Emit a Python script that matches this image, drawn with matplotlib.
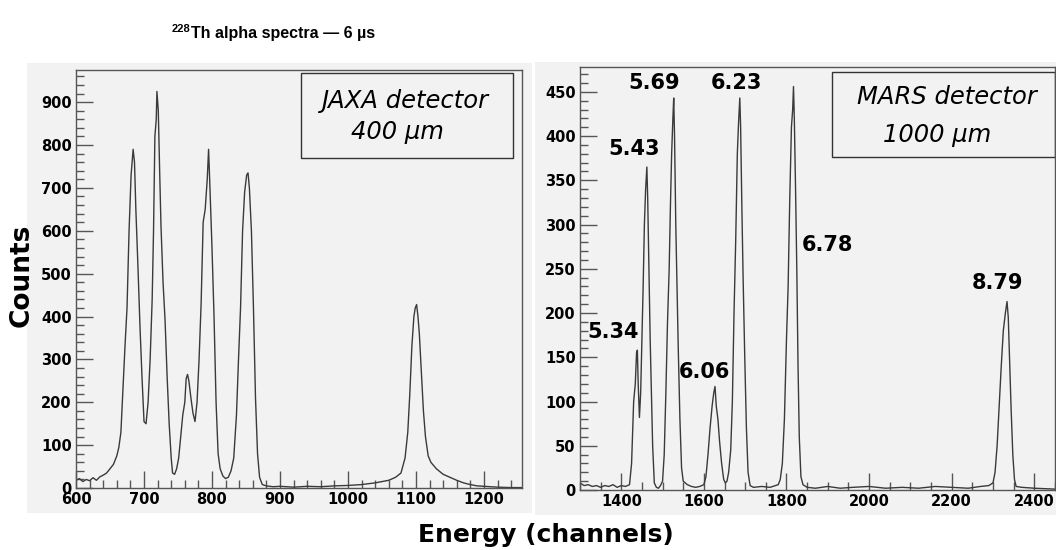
import matplotlib.pyplot as plt
from matplotlib.patches import Rectangle
from matplotlib.ticker import MultipleLocator

# JAXA detector (400 um) spectrum
jaxa_channel = [600, 605, 610, 615, 620, 625, 630, 635, 640, 645, 650, 655, 660, 663, 666,
                669, 672, 675, 678, 681, 684, 686, 688, 691, 694, 697, 700, 703, 706, 709,
                712, 714, 716, 718, 719, 721, 723, 725, 728, 731, 734, 737, 740, 742, 745,
                748, 751, 754, 757, 760, 762, 764, 766, 769, 772, 775, 778, 781, 784, 787,
                790, 793, 795, 797, 800, 803, 806, 809, 812, 816, 820, 824, 828, 832, 836,
                839, 842, 845, 848, 851, 853, 855, 858, 861, 864, 867, 870, 874, 880, 890,
                900, 920, 940, 960, 980, 1000, 1020, 1040, 1060, 1070, 1078, 1084, 1088, 1091, 1094,
                1097, 1099, 1101, 1103, 1105, 1108, 1111, 1114, 1118, 1122, 1130, 1140, 1150, 1160, 1170,
                1180, 1190, 1200, 1220, 1240, 1255]
jaxa_counts = [18, 22, 15, 20, 17, 24, 18, 26, 30, 35, 45, 55, 75, 95, 130,
               230, 330, 420, 600, 730, 790, 760, 650, 520, 380, 260, 155, 150, 200, 300,
               440, 600, 820, 860, 925, 880, 740, 610, 480, 390, 260, 150, 70, 35, 32,
               45, 70, 120, 170, 200, 255, 265, 250, 210, 175, 155, 200, 300, 430, 620,
               650, 720, 790, 700, 560, 400, 200, 80, 45, 28, 22, 25, 40, 70, 170,
               300, 420, 600, 690, 730, 735, 700, 600, 420, 210, 80, 25, 8, 5, 3,
               4, 2, 4, 3, 5, 6, 8, 12, 18, 25, 35, 70, 130, 220, 330,
               400, 420, 428, 400, 360, 270, 180, 120, 75, 60, 45, 32, 25, 18, 12,
               8, 5, 4, 2, 1, 1]

# MARS detector (1000 um) spectrum
mars_channel = [1300, 1310, 1320, 1330, 1340, 1350, 1360, 1370, 1380, 1390, 1400, 1410, 1420, 1425, 1430,
                1434, 1437, 1439, 1441, 1444, 1447, 1450, 1453, 1456, 1459, 1462, 1464, 1467, 1470, 1473,
                1476, 1480, 1485, 1490, 1495, 1500, 1504, 1508, 1512, 1516, 1519, 1522, 1525, 1527, 1529,
                1532, 1535, 1538, 1542, 1546, 1550, 1560, 1570, 1580, 1590, 1600, 1605, 1610, 1615, 1620,
                1624, 1627, 1630, 1634, 1638, 1643, 1648, 1652, 1656, 1660, 1665, 1669, 1673, 1677, 1681,
                1684, 1687, 1689, 1692, 1695, 1699, 1703, 1707, 1712, 1720, 1740, 1760, 1780, 1785, 1790,
                1795, 1800, 1804, 1808, 1812, 1815, 1817, 1819, 1822, 1825, 1828, 1831, 1835, 1840, 1850,
                1870, 1900, 1930, 1960, 2000, 2040, 2080, 2120, 2160, 2200, 2240, 2270, 2290, 2300, 2305,
                2310, 2315, 2320, 2325, 2330, 2334, 2337, 2340, 2344, 2348, 2352, 2356, 2370, 2400, 2450]
mars_counts = [8, 5, 6, 4, 5, 3, 5, 4, 6, 3, 5, 4, 6, 30, 100,
               120, 155, 158, 120, 82, 110, 170, 230, 300, 340, 365, 330, 250, 170, 110,
               50, 8, 3, 2, 5, 10, 40, 110, 190, 250, 320, 380, 420, 443, 400,
               300, 230, 160, 80, 25, 10, 6, 4, 3, 4, 6, 15, 40, 70, 95,
               110, 117, 95, 80, 55, 30, 12, 8, 10, 20, 45, 100, 200, 280, 380,
               415, 443, 410, 320, 240, 150, 70, 20, 5, 3, 4, 3, 6, 12, 30,
               80, 170, 230, 330, 410, 430, 456, 420, 340, 250, 140, 60, 15, 6, 3,
               2, 4, 2, 3, 4, 2, 3, 2, 4, 3, 2, 4, 5, 8, 20,
               50, 95, 140, 180, 200, 213, 195, 150, 90, 40, 12, 4, 3, 2, 1]

# alpha energies (MeV) of the labelled lines
peak_labels = ['5.34', '5.43', '5.69', '6.06', '6.23', '6.78', '8.79']
label_x = [1381, 1431, 1480, 1602, 1680, 1899, 2311]
label_y = [179, 385, 460, 133, 460, 277, 234]

pad_grey = '#f2f2f2'
line_col = '#3a3a3a'
frame_col = '#555555'

plt.rcParams['font.family'] = ['DejaVu Sans']
plt.rcParams['font.weight'] = 'bold'

fig = plt.figure(figsize=(10.56, 5.5), dpi=100)

# grey pads behind each histogram
fig.add_artist(Rectangle((0.0256, 0.0673), 0.478, 0.818, transform=fig.transFigure,
                         facecolor=pad_grey, edgecolor='none', zorder=-1))
fig.add_artist(Rectangle((0.5066, 0.0636), 0.4934, 0.8236, transform=fig.transFigure,
                         facecolor=pad_grey, edgecolor='none', zorder=-1))

ax1 = fig.add_axes([0.0720, 0.1127, 0.4223, 0.760])
ax2 = fig.add_axes([0.5492, 0.1091, 0.4498, 0.769])

ax1.plot(jaxa_channel, jaxa_counts, color=line_col, lw=1.0)
ax1.set_xlim(600, 1256)
ax1.set_ylim(0, 975)
ax1.xaxis.set_major_locator(MultipleLocator(100))
ax1.xaxis.set_minor_locator(MultipleLocator(20))
ax1.yaxis.set_major_locator(MultipleLocator(100))
ax1.yaxis.set_minor_locator(MultipleLocator(20))

ax2.plot(mars_channel, mars_counts, color=line_col, lw=1.0)
ax2.set_xlim(1300, 2450)
ax2.set_ylim(0, 478)
ax2.xaxis.set_major_locator(MultipleLocator(200))
ax2.xaxis.set_minor_locator(MultipleLocator(50))
ax2.yaxis.set_major_locator(MultipleLocator(50))
ax2.yaxis.set_minor_locator(MultipleLocator(10))

for ax in (ax1, ax2):
    ax.set_facecolor(pad_grey)
    for s in ax.spines.values():
        s.set_color(frame_col)
        s.set_linewidth(1.0)
    ax.tick_params(which='major', direction='in', length=12, width=1, color=frame_col,
                   labelsize=10.5, pad=3, top=False, right=False)
    ax.tick_params(which='minor', direction='in', length=6, width=1, color=frame_col,
                   top=False, right=False)

for lab, x, y in zip(peak_labels, label_x, label_y):
    ax2.text(x, y, lab, ha='center', va='center', fontsize=15, fontweight='bold')

# detector boxes
ax1.add_patch(Rectangle((0.5045, 0.789), 0.475, 0.203, transform=ax1.transAxes,
                        facecolor='none', edgecolor='#333333', lw=1.0))
ax1.text(0.740, 0.926, 'JAXA detector', transform=ax1.transAxes, ha='center', va='center',
         fontsize=17.5, style='italic', fontweight='normal')
ax1.text(0.720, 0.852, '400 µm', transform=ax1.transAxes, ha='center', va='center',
         fontsize=17.5, style='italic', fontweight='normal')

ax2.add_patch(Rectangle((0.5305, 0.787), 0.469, 0.201, transform=ax2.transAxes,
                        facecolor='none', edgecolor='#333333', lw=1.0))
ax2.text(0.773, 0.929, 'MARS detector', transform=ax2.transAxes, ha='center', va='center',
         fontsize=17.5, style='italic', fontweight='normal')
ax2.text(0.752, 0.839, '1000 µm', transform=ax2.transAxes, ha='center', va='center',
         fontsize=17.5, style='italic', fontweight='normal')

# title with superscript mass number
fig.text(190 / 1056, 0.942, '228', ha='right', va='baseline', fontsize=8, fontweight='bold',
         family=['Liberation Sans', 'DejaVu Sans'])
fig.text(191 / 1056, 0.931, 'Th alpha spectra — 6 µs', ha='left', va='baseline', fontsize=11.5,
         fontweight='bold', family=['Liberation Sans', 'DejaVu Sans'])

fig.text(22 / 1056, 0.50, 'Counts', rotation=90, ha='center', va='center',
         fontsize=19, fontweight='bold')
fig.text(546 / 1056, 0.027, 'Energy (channels)', ha='center', va='center',
         fontsize=18, fontweight='bold')

fig.savefig('out.png', dpi=100)
